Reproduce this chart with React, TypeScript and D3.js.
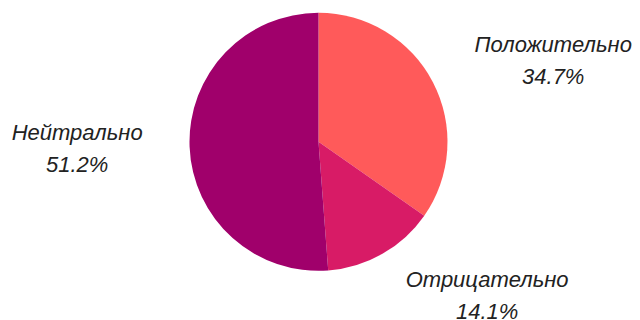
import React, { useEffect, useRef } from "react";
import * as d3 from "d3";

const categories = ["Положительно", "Отрицательно", "Нейтрально"];
const values = [34.7, 14.1, 51.2];
const valueLabels = ["34.7%", "14.1%", "51.2%"];
const colors = ["#ff5a5a", "#d81b66", "#a0006b"];

const W = 640;
const H = 320;
const CX = 318.5;
const CY = 141.8;
const R = 129;
const LABEL_R = 176;
const FONT = 22;
const LINE = 32;

export default function App() {
  const ref = useRef<SVGSVGElement | null>(null);

  useEffect(() => {
    document.body.style.margin = "0";
    const svg = d3.select(ref.current);
    svg.selectAll("*").remove();
    const g = svg.append("g").attr("transform", `translate(${CX},${CY})`);

    const data = categories.map((c, i) => ({ name: c, value: values[i], label: valueLabels[i], color: colors[i] }));
    const pie = d3.pie<any>().value((d: any) => d.value).sort(null).startAngle(0).endAngle(2 * Math.PI);
    const arcs = pie(data);
    const arc = d3.arc<any>().innerRadius(0).outerRadius(R);

    g.selectAll("path.slice")
      .data(arcs)
      .enter()
      .append("path")
      .attr("class", "slice")
      .attr("d", arc as any)
      .attr("fill", (d: any) => d.data.color);

    const labelArc = d3.arc<any>().innerRadius(LABEL_R).outerRadius(LABEL_R);

    arcs.forEach((a: any) => {
      const mid = (a.startAngle + a.endAngle) / 2;
      const px = Math.sin(mid) * LABEL_R;
      const py = -Math.cos(mid) * LABEL_R;
      const t = g
        .append("text")
        .attr("font-family", "'Liberation Sans', Arial, sans-serif")
        .attr("font-style", "italic")
        .attr("font-size", FONT)
        .attr("fill", "#222")
        .attr("text-anchor", "middle");
      const l1 = t.append("tspan").text(a.data.name);
      const w = (l1.node() as SVGTextContentElement).getComputedTextLength();
      const cx = px >= 0 ? px + w / 2 : px - w / 2;
      const y0 = py - LINE / 2 + 8;
      l1.attr("x", cx).attr("y", y0);
      t.append("tspan").attr("x", cx).attr("y", y0 + LINE).text(a.data.label);
    });
  }, []);

  return <svg ref={ref} width={W} height={H} style={{ display: "block", background: "#fff" }} />;
}
